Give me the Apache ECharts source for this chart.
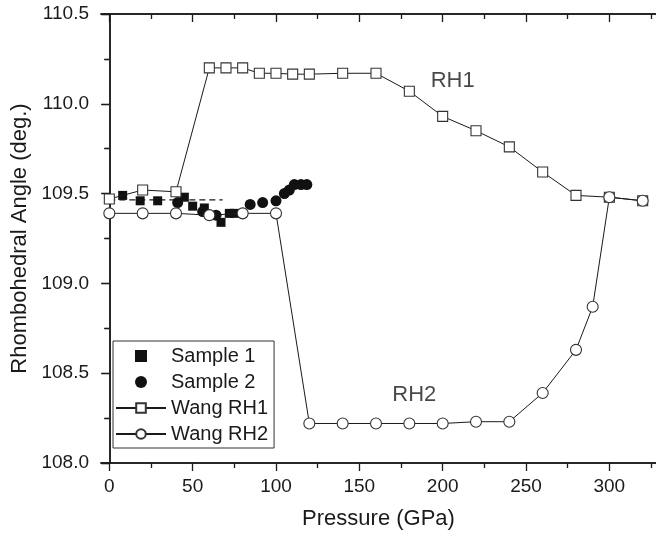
<!DOCTYPE html>
<html>
<head>
<meta charset="utf-8">
<script src="https://cdn.jsdelivr.net/npm/echarts@6/dist/echarts.min.js"></script>
<style>html,body{margin:0;padding:0;background:#fff}#c{width:656px;height:536px}</style>
</head>
<body>
<div id="c"></div>
<script>
// ---- data ----
const sample1P = [8, 18.5, 29, 45, 50, 57, 67, 72, 75];
const sample1A = [109.49, 109.46, 109.46, 109.48, 109.43, 109.42, 109.34, 109.39, 109.39];
const sample2P = [41, 56, 64, 80, 84.5, 92, 100, 105, 108, 111, 115, 118.5];
const sample2A = [109.45, 109.40, 109.38, 109.39, 109.44, 109.45, 109.46, 109.50, 109.52, 109.55, 109.55, 109.55];
const fitP = [0, 68];
const fitA = [109.465, 109.465];
const rh1P = [0, 20, 40, 60, 70, 80, 90, 100, 110, 120, 140, 160, 180, 200, 220, 240, 260, 280, 300, 320];
const rh1A = [109.47, 109.52, 109.51, 110.20, 110.20, 110.20, 110.17, 110.17, 110.165, 110.165, 110.17, 110.17, 110.07, 109.93, 109.85, 109.76, 109.62, 109.49, 109.48, 109.46];
const rh2P = [0, 20, 40, 60, 80, 100, 120, 140, 160, 180, 200, 220, 240, 260, 280, 290, 300, 320];
const rh2A = [109.39, 109.39, 109.39, 109.38, 109.39, 109.39, 108.22, 108.22, 108.22, 108.22, 108.22, 108.23, 108.23, 108.39, 108.63, 108.87, 109.48, 109.46];
const xMajor = [0, 50, 100, 150, 200, 250, 300];
const xMinor = [25, 75, 125, 175, 225, 275, 325];
const annotP = [206, 183];
const annotA = [110.127, 108.38];
const annotText = ['RH1', 'RH2'];

const zip = (a, b) => a.map((v, i) => [v, b[i]]);
const FONT = 'Liberation Sans, Arial, sans-serif';
const INK = '#1a1a1a';

const xBase = {
  type: 'value', min: -5, max: 328, gridIndex: 0,
  splitLine: { show: false },
  axisLine: { show: true, lineStyle: { color: INK, width: 1.5 } }
};
const chart = echarts.init(document.getElementById('c'));
chart.setOption({
  animation: false,
  backgroundColor: '#fff',
  textStyle: { fontFamily: FONT },
  grid: { left: 101, top: 14, width: 556, height: 449, containLabel: false },
  xAxis: [
    Object.assign({}, xBase, {
      position: 'bottom',
      axisTick: { show: true, customValues: xMajor, length: 8, lineStyle: { color: INK, width: 1.3 } },
      axisLabel: { show: true, customValues: xMajor, fontSize: 19, color: INK, margin: 14, fontFamily: FONT },
      name: 'Pressure (GPa)', nameLocation: 'middle', nameGap: 45,
      nameTextStyle: { fontSize: 22, color: INK, fontFamily: FONT }
    }),
    Object.assign({}, xBase, {
      position: 'bottom',
      axisTick: { show: true, customValues: xMinor, length: 5, lineStyle: { color: INK, width: 1.3 } },
      axisLabel: { show: false }
    }),
    Object.assign({}, xBase, {
      position: 'top',
      axisTick: { show: true, inside: true, customValues: xMajor, length: 8, lineStyle: { color: INK, width: 1.3 } },
      axisLabel: { show: false }
    }),
    Object.assign({}, xBase, {
      position: 'top',
      axisTick: { show: true, inside: true, customValues: xMinor, length: 5, lineStyle: { color: INK, width: 1.3 } },
      axisLabel: { show: false }
    })
  ],
  yAxis: [
    {
      type: 'value', min: 108, max: 110.5, interval: 0.5, position: 'left',
      splitLine: { show: false },
      axisLine: { show: true, lineStyle: { color: INK, width: 1.5 } },
      axisTick: { show: true, length: 8, lineStyle: { color: INK, width: 1.3 } },
      minorTick: { show: true, splitNumber: 2, length: 5, lineStyle: { color: INK, width: 1.3 } },
      axisLabel: { fontSize: 19, color: INK, margin: 12, fontFamily: FONT, formatter: v => v.toFixed(1) },
      name: 'Rhombohedral Angle (deg.)', nameLocation: 'middle', nameGap: 68, nameRotate: 90,
      nameTextStyle: { fontSize: 22, color: INK, fontFamily: FONT }
    },
    {
      type: 'value', min: 108, max: 110.5, interval: 0.5, position: 'right',
      splitLine: { show: false },
      axisLine: { show: true, lineStyle: { color: INK, width: 1.5 } },
      axisTick: { show: true, inside: true, length: 8, lineStyle: { color: INK, width: 1.3 } },
      minorTick: { show: true, splitNumber: 2, length: 5, lineStyle: { color: INK, width: 1.3 } },
      axisLabel: { show: false }
    }
  ],
  legend: {
    data: [
      { name: 'Sample 1', icon: 'path://M0,0L10,0L10,10L0,10Z' },
      { name: 'Sample 2', icon: 'circle' },
      'Wang RH1', 'Wang RH2'
    ],
    orient: 'vertical', left: 113, top: 341,
    borderColor: '#333', borderWidth: 1, borderRadius: 0,
    backgroundColor: '#fff',
    padding: [5, 6, 4, 2],
    itemWidth: 50, itemHeight: 12, itemGap: 6,
    textStyle: { fontSize: 20, color: INK, fontFamily: FONT }
  },
  series: [
    {
      name: 'fit', type: 'line', data: zip(fitP, fitA), symbol: 'none',
      lineStyle: { color: INK, width: 1.2, type: [6, 4] }, z: 1, silent: true
    },
    {
      name: 'Sample 1', type: 'scatter', data: zip(sample1P, sample1A),
      symbol: 'rect', symbolSize: 9, itemStyle: { color: '#111', opacity: 1 }, z: 2
    },
    {
      name: 'Sample 2', type: 'scatter', data: zip(sample2P, sample2A),
      symbol: 'circle', symbolSize: 11, itemStyle: { color: '#111', opacity: 1 }, z: 2
    },
    {
      name: 'Wang RH1', type: 'line', data: zip(rh1P, rh1A),
      symbol: 'rect', symbolSize: 10, showAllSymbol: true,
      lineStyle: { color: INK, width: 1 },
      itemStyle: { color: '#fff', borderColor: '#333', borderWidth: 1.1 }, z: 3
    },
    {
      name: 'Wang RH2', type: 'line', data: zip(rh2P, rh2A),
      symbol: 'circle', symbolSize: 11, showAllSymbol: true,
      lineStyle: { color: INK, width: 1 },
      itemStyle: { color: '#fff', borderColor: '#333', borderWidth: 1.1 }, z: 3
    },
    {
      name: 'labels', type: 'scatter',
      data: annotP.map((p, i) => [p, annotA[i], annotText[i]]),
      symbolSize: 1, itemStyle: { color: 'rgba(0,0,0,0)' },
      label: { show: true, position: 'inside', formatter: p => p.data[2], fontSize: 22, color: INK, fontFamily: FONT },
      silent: true, z: 4
    }
  ]
});
</script>
</body>
</html>
